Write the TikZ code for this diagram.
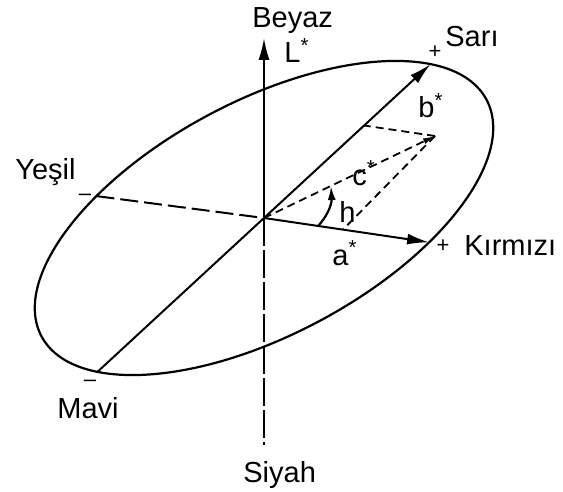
\documentclass[tikz,border=0pt]{standalone}
\usepackage{fontspec}
\setmainfont{Liberation Sans}
\usetikzlibrary{arrows.meta}
\begin{document}
\begin{tikzpicture}[x=0.5pt,y=-0.5pt,
  lab/.style={font=\fontsize{14.5}{17}\selectfont, inner sep=0pt, anchor=base west},
  pm/.style={font=\fontsize{11}{11}\selectfont, inner sep=0pt},
  solidline/.style={line width=1pt},
  longdash/.style={line width=1pt, dash pattern=on 9pt off 3pt},
  shortdash/.style={line width=0.9pt, dash pattern=on 4pt off 2.5pt},
  bigtip/.style={-{Latex[length=11pt,width=5.5pt]}},
]
\useasboundingbox (0,0) rectangle (563,492);
% geometry points
\coordinate (O) at (264,218);
\coordinate (Wtop) at (264,38);
\coordinate (Kbot) at (264,445);
\coordinate (Sari) at (430.6,64.1);
\coordinate (Mavi) at (97.4,371.9);
\coordinate (Kir) at (429.1,242.3);
\coordinate (Yes) at (96.5,196.1);
\coordinate (C) at (435,136);
\coordinate (Bp) at (364,125.5);
\coordinate (Ap) at (343,229.6);
\coordinate (H1) at (318,226);
\coordinate (H2) at (331,186);
% ellipse
\draw[line width=1.1pt, shift={(O)}, rotate=28] (0,0) ellipse [x radius=126pt, y radius=58.5pt];
% axes
\draw[solidline, bigtip] (O) -- (Wtop);
\draw[line width=1pt, dash pattern=on 14pt off 2pt] (O) -- (Kbot);
\draw[solidline] (Mavi) -- (O);
\draw[solidline, bigtip] (O) -- (Sari);
\draw[longdash] (Yes) -- (O);
\draw[solidline, bigtip] (O) -- (Kir);
% chroma construction
\draw[shortdash, -{Latex[length=6pt,width=3pt]}] (O) -- (C);
\draw[shortdash] (C) -- (Bp);
\draw[shortdash] (C) -- (Ap);
\draw[line width=1.1pt, -{Latex[length=7pt,width=4pt]}] (H1) .. controls (326,218) and (332,205) .. (H2);
% labels
\node[lab] (beyaz) at (252,28) {Beyaz};
\node[lab] (lstar) at (284,63) {L\textsuperscript{*}};
\node[lab] (sarilab) at (445,47) {Sarı};
\node[lab] (bstar) at (418,118) {b\textsuperscript{*}};
\node[lab] (cstar) at (352,185) {c\textsuperscript{*}};
\node[lab] (hlab) at (339,222) {h};
\node[lab] (astar) at (332,265) {a\textsuperscript{*}};
\node[lab] (kirlab) at (464,256) {Kırmızı};
\node[lab] (yeslab) at (15,180) {Yeşil};
\node[lab] (mavilab) at (57,418) {Mavi};
\node[lab] (siyah) at (243,482) {Siyah};
% markers
\node[pm] (pS) at (435,52) {+};
\node[pm] (pK) at (443,246) {+};
\node[pm] (mY) at (85,197) {–};
\node[pm] (mM) at (90,383) {–};
\end{tikzpicture}
\end{document}
